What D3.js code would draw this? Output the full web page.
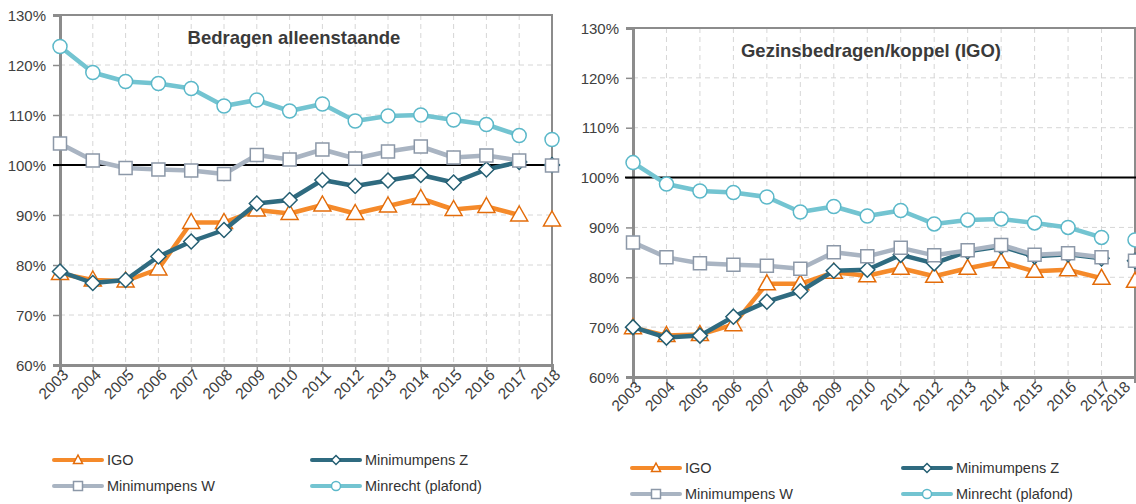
<!DOCTYPE html>
<html><head><meta charset="utf-8">
<script src="https://cdn.jsdelivr.net/npm/d3@7"></script>
<style>
body{margin:0;background:#fff;}
svg{display:block;font-family:"Liberation Sans",Arial,sans-serif;}
</style></head><body>
<svg id="c" width="1136" height="504"></svg>
<script>
const years = [2003,2004,2005,2006,2007,2008,2009,2010,2011,2012,2013,2014,2015,2016,2017,2018];
const yTicks = [60,70,80,90,100,110,120,130];
const seriesNames = ["IGO","Minimumpens Z","Minimumpens W","Minrecht (plafond)"];

// Bedragen alleenstaande (%)
const leftIGO = [78.3,77.0,76.8,79.2,88.5,88.5,91.0,90.3,92.0,90.3,91.8,93.3,91.1,91.7,90.0,89.0];
const leftZ   = [78.7,76.4,77.0,81.7,84.7,87.0,92.3,93.0,97.0,95.8,96.9,98.0,96.5,99.1,100.6,100.0];
const leftW   = [104.3,100.9,99.4,99.1,98.9,98.2,102.0,101.1,103.1,101.3,102.7,103.7,101.5,101.9,100.9,99.9];
const leftMin = [123.7,118.5,116.7,116.3,115.3,111.8,113.0,110.8,112.2,108.8,109.8,110.0,109.0,108.1,105.9,105.1];

// Gezinsbedragen/koppel (IGO) (%)
const rightIGO = [69.9,68.3,68.5,70.5,78.7,78.7,81.0,80.3,81.8,80.2,81.8,83.1,81.2,81.5,79.8,79.2];
const rightZ   = [70.0,67.9,68.3,72.1,75.1,77.2,81.3,81.5,84.5,82.8,85.2,86.2,84.2,84.6,83.8,83.3];
const rightW   = [87.0,84.0,82.8,82.5,82.3,81.7,85.0,84.2,85.9,84.4,85.4,86.5,84.5,84.8,84.0,83.3];
const rightMin = [103.0,98.7,97.3,97.0,96.1,93.1,94.2,92.3,93.4,90.7,91.5,91.7,90.9,90.0,88.0,87.5];

const lastConnectedYear = 2017;

const styles = [
  {line:"#F58A2A", stroke:"#E36C0A", shape:"triangle"},
  {line:"#2F6B80", stroke:"#245E72", shape:"diamond"},
  {line:"#A9B4C2", stroke:"#8C98A8", shape:"square"},
  {line:"#73C4D1", stroke:"#5BB8C9", shape:"circle"}
];

const svg = d3.select("#c");

function markerPath(shape){
  if(shape==="triangle") return "M0,-9 L8.5,6 L-8.5,6 Z";
  if(shape==="diamond") return "M0,-7.5 L7.5,0 L0,7.5 L-7.5,0 Z";
  if(shape==="square") return "M-6.5,-6.5 H6.5 V6.5 H-6.5 Z";
  return null;
}

function drawChart(cfg){
  const g = svg.append("g");
  const x = d3.scaleLinear().domain([years[0], years[years.length-1]]).range([cfg.x0, cfg.x1]);
  const y = d3.scaleLinear().domain([60,130]).range([cfg.y1, cfg.y0]);

  // grid
  g.append("g").selectAll("line").data(years.slice(1,-1)).join("line")
    .attr("x1",d=>x(d)).attr("x2",d=>x(d)).attr("y1",cfg.y0).attr("y2",cfg.y1)
    .attr("stroke","#d6d6d6").attr("stroke-width",1).attr("stroke-dasharray","5,4");
  g.append("g").selectAll("line").data(yTicks.filter(t=>t>60&&t<130)).join("line")
    .attr("x1",cfg.x0).attr("x2",cfg.x1).attr("y1",d=>y(d)).attr("y2",d=>y(d))
    .attr("stroke","#d6d6d6").attr("stroke-width",1).attr("stroke-dasharray","5,4");

  // frame top/right
  g.append("path").attr("d",`M${cfg.x0},${cfg.y0} H${cfg.x1} V${cfg.y1}`)
    .attr("fill","none").attr("stroke","#8c8c8c").attr("stroke-width",2);

  // axes
  const ya = d3.axisLeft(y).tickValues(yTicks).tickFormat(d=>d+"%").tickSize(7).tickPadding(7);
  const yg = g.append("g").attr("transform",`translate(${cfg.x0},0)`).call(ya);
  yg.select(".domain").attr("stroke","#8c8c8c").attr("stroke-width",3);
  yg.selectAll(".tick line").attr("stroke","#8c8c8c").attr("stroke-width",1.5);
  yg.selectAll(".tick text").attr("fill","#404040").attr("font-size",15).attr("dy","0.35em");

  const xa = d3.axisBottom(x).tickValues(years).tickFormat(d=>String(d)).tickSize(6);
  const xg = g.append("g").attr("transform",`translate(0,${cfg.y1})`).call(xa);
  xg.select(".domain").attr("stroke","#8c8c8c").attr("stroke-width",3);
  xg.selectAll(".tick line").attr("stroke","#8c8c8c").attr("stroke-width",1.5);
  xg.selectAll(".tick text").attr("fill","#404040").attr("font-size",15.5)
    .attr("text-anchor","end").attr("dy","0.35em")
    .attr("transform",(d,i)=>`translate(${(i===years.length-1?cfg.lastLabelShift:0)+5},7) rotate(-45)`)
    .attr("x",0).attr("y",0);

  // 100% reference line
  g.append("line").attr("x1",cfg.refX0).attr("x2",cfg.refX1)
    .attr("y1",y(100)).attr("y2",y(100)).attr("stroke","#000").attr("stroke-width",2);

  // title
  g.append("text").attr("x",cfg.titleX).attr("y",cfg.titleY).attr("text-anchor","middle")
    .attr("font-weight","bold").attr("font-size",18.5).attr("fill","#3a3a3a").text(cfg.title);

  // series
  cfg.series.forEach((vals,si)=>{
    const st = styles[si];
    const pts = vals.map((v,i)=>({yr:years[i],v}));
    const conn = pts.filter(p=>p.yr<=lastConnectedYear);
    g.append("path").datum(conn)
      .attr("d",d3.line().x(p=>x(p.yr)).y(p=>y(p.v)))
      .attr("fill","none").attr("stroke",st.line).attr("stroke-width",4.5)
      .attr("stroke-linejoin","round");
    const mk = g.append("g").selectAll("g").data(pts).join("g")
      .attr("transform",p=>`translate(${x(p.yr)},${y(p.v)})`);
    if(st.shape==="circle"){
      mk.append("circle").attr("r",7).attr("fill","#fff").attr("stroke",st.stroke).attr("stroke-width",1.5);
    } else {
      mk.append("path").attr("d",markerPath(st.shape)).attr("fill","#fff")
        .attr("stroke",st.stroke).attr("stroke-width",1.5);
    }
  });

  // legend
  const lg = g.append("g");
  const cols = [cfg.legX0, cfg.legX1];
  const rows = [cfg.legY0, cfg.legY0+26];
  const order = [[0,0,0],[1,1,0],[2,0,1],[3,1,1]];
  order.forEach(([si,c,r])=>{
    const st = styles[si];
    const lx = cols[c], ly = rows[r];
    const item = lg.append("g").attr("transform",`translate(${lx},${ly})`);
    item.append("line").attr("x1",0).attr("x2",48).attr("y1",0).attr("y2",0)
      .attr("stroke",st.line).attr("stroke-width",4).attr("stroke-linecap","round");
    const m = item.append("g").attr("transform","translate(24,0)");
    if(st.shape==="circle") m.append("circle").attr("r",4.5).attr("fill","#fff").attr("stroke",st.stroke).attr("stroke-width",1.5);
    else if(st.shape==="triangle") m.append("path").attr("d","M0,-5 L4.5,3.5 L-4.5,3.5 Z").attr("fill","#fff").attr("stroke",st.stroke).attr("stroke-width",1.5);
    else if(st.shape==="diamond") m.append("path").attr("d","M0,-4.5 L4.5,0 L0,4.5 L-4.5,0 Z").attr("fill","#fff").attr("stroke",st.stroke).attr("stroke-width",1.5);
    else m.append("path").attr("d","M-4.5,-4.5 H4.5 V4.5 H-4.5 Z").attr("fill","#fff").attr("stroke",st.stroke).attr("stroke-width",1.5);
    item.append("text").attr("x",53).attr("y",0).attr("dy","0.35em")
      .attr("font-size",14.5).attr("fill","#333").text(seriesNames[si]);
  });
}

drawChart({x0:60,x1:552,y0:15,y1:365,refX0:53,refX1:560,title:"Bedragen alleenstaande",titleX:294,titleY:44,lastLabelShift:0,
  series:[leftIGO,leftZ,leftW,leftMin],legX0:54,legX1:312,legY0:460});
drawChart({x0:633,x1:1135,y0:28,y1:377,refX0:625,refX1:1136,title:"Gezinsbedragen/koppel (IGO)",titleX:871,titleY:57,lastLabelShift:-13,
  series:[rightIGO,rightZ,rightW,rightMin],legX0:632,legX1:903,legY0:468});
</script>
</body></html>
